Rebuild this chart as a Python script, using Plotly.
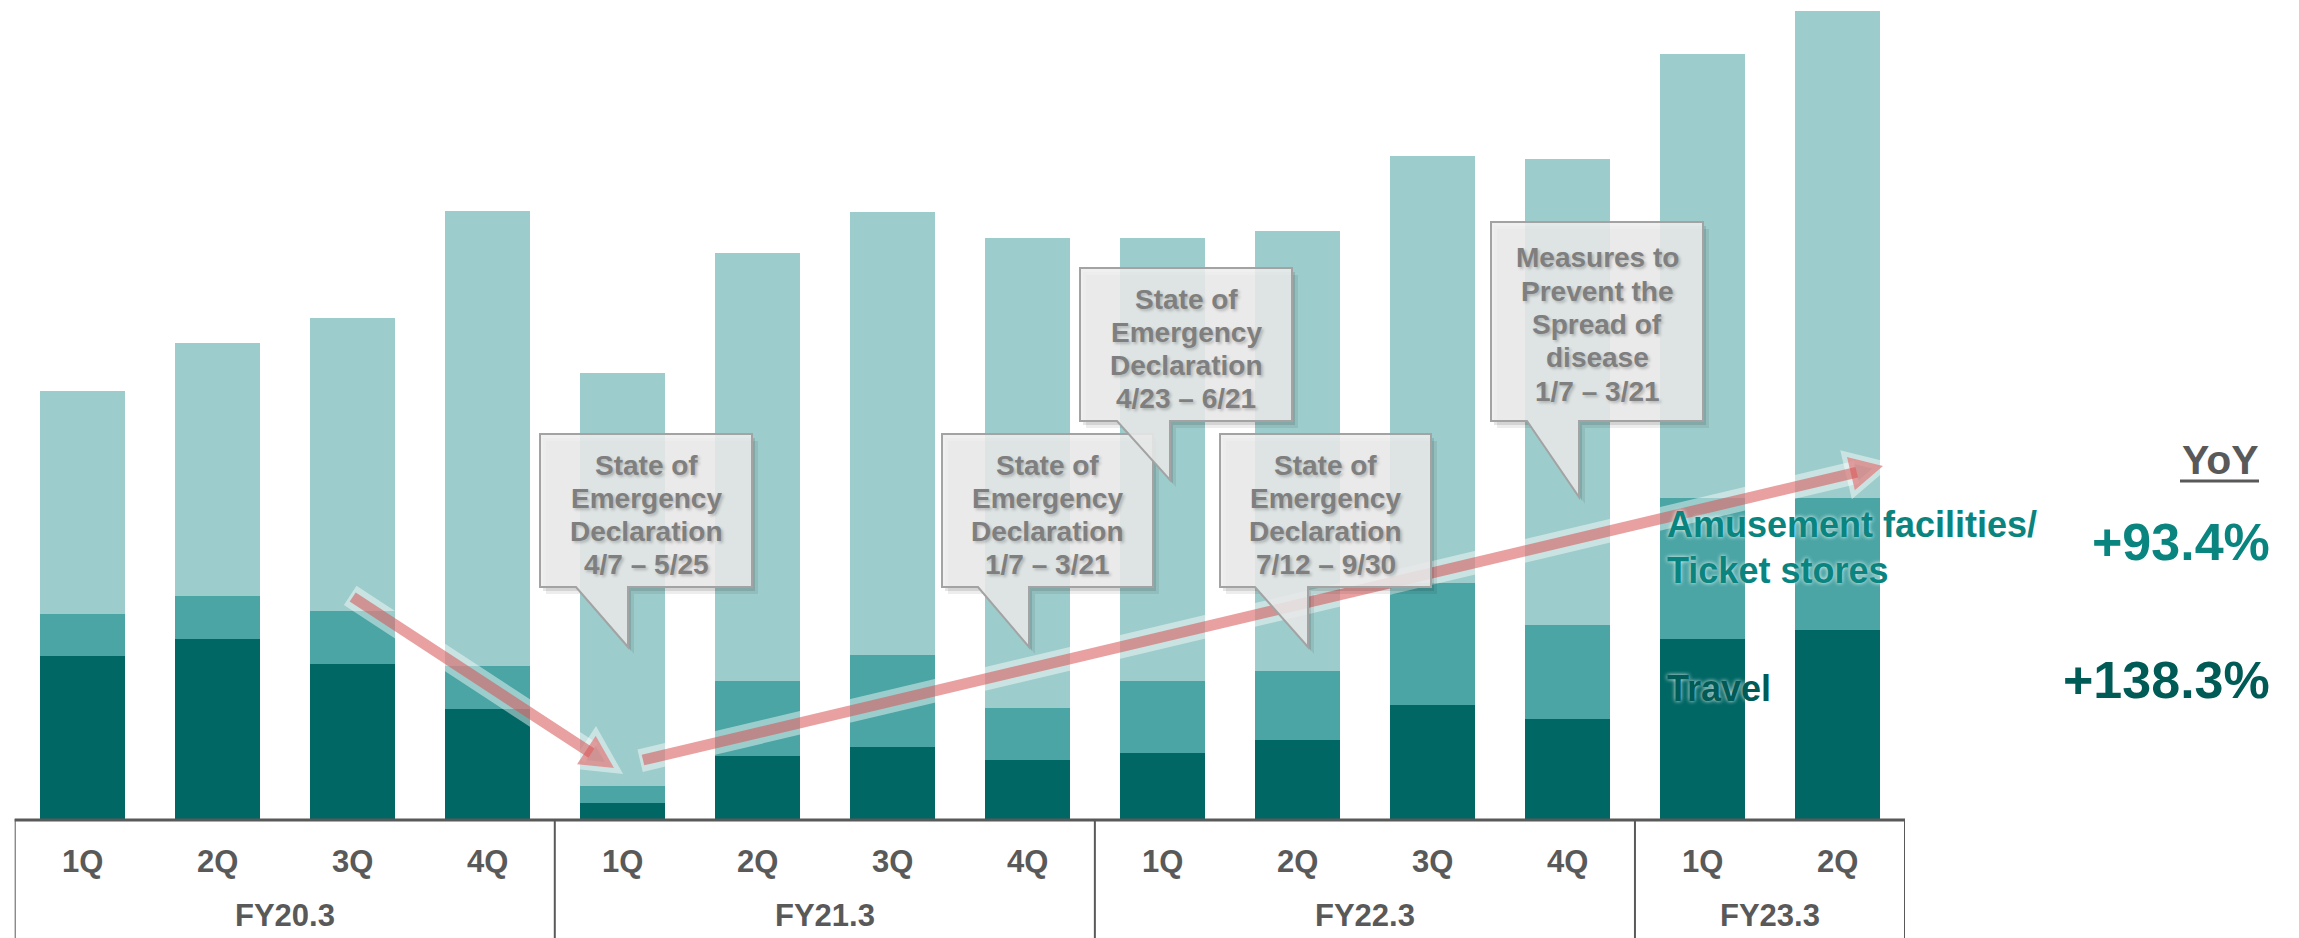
import plotly.graph_objects as go

# ---------------- data (arbitrary units) ----------------
quarters = ["1Q", "2Q", "3Q", "4Q", "1Q", "2Q", "3Q", "4Q", "1Q", "2Q", "3Q", "4Q", "1Q", "2Q"]
fiscal_years = ["FY20.3", "FY21.3", "FY22.3", "FY23.3"]
quarters_per_fy = [4, 4, 4, 2]
travel = [111, 123, 106, 75, 11, 43, 49, 40, 45, 54, 78, 68, 123, 129]
amusement = [28.5, 29, 36, 29.5, 11.5, 51, 63, 36, 49, 47, 83, 64, 96, 90]
others = [152.5, 173, 200, 310.5, 281.5, 292, 302, 320, 302, 300, 291, 318, 303, 332]

callouts = [
    ["State of", "Emergency", "Declaration", "4/7 – 5/25"],
    ["State of", "Emergency", "Declaration", "1/7 – 3/21"],
    ["State of", "Emergency", "Declaration", "4/23 – 6/21"],
    ["State of", "Emergency", "Declaration", "7/12 – 9/30"],
    ["Measures to", "Prevent the", "Spread of", "disease", "1/7 – 3/21"],
]
yoy_labels = ["+93.4%", "+138.3%"]

# ---------------- layout helpers ----------------
W, H = 2299, 938
FONT = "Liberation Sans, Arial, sans-serif"
C_LIGHT, C_MID, C_DARK = "#9CCCCB", "#4BA5A5", "#006764"
GREY = "#595959"


def px(x):
    return x / W


def py(y):
    return 1 - y / H


fy_of_bar = []
for fy, n in zip(fiscal_years, quarters_per_fy):
    fy_of_bar += [fy] * n
cats = [f"{fy} {q}" for fy, q in zip(fy_of_bar, quarters)]

fig = go.Figure()
fig.add_bar(x=cats, y=travel, name="Travel", marker=dict(color=C_DARK, line_width=0))
fig.add_bar(x=cats, y=amusement, name="Amusement facilities/Ticket stores",
            marker=dict(color=C_MID, line_width=0))
fig.add_bar(x=cats, y=others, name="Others", marker=dict(color=C_LIGHT, line_width=0))

base_px = 819.0
unit_px = 1.466
x_left, x_right = 14.7, 1905.0

shapes = []
annotations = []

# ---- category box under the bars ----
shapes.append(dict(type="line", xref="paper", yref="paper", x0=px(x_left), x1=px(x_right),
                   y0=py(base_px + 1), y1=py(base_px + 1), line=dict(color=GREY, width=3)))
bounds = [-0.5]
acc = -0.5
for n in quarters_per_fy:
    acc += n
    bounds.append(acc)
for b in bounds:
    shapes.append(dict(type="line", xref="x", yref="paper", x0=b, x1=b,
                       y0=py(base_px), y1=0, line=dict(color=GREY, width=2)))
for c, q in zip(cats, quarters):
    annotations.append(dict(x=c, xref="x", y=py(861), yref="paper", text=f"<b>{q}</b>",
                            showarrow=False, font=dict(family=FONT, size=31, color=GREY),
                            xanchor="center", yanchor="middle"))
for i, fy in enumerate(fiscal_years):
    centre = (bounds[i] + bounds[i + 1]) / 2
    annotations.append(dict(x=centre, xref="x", y=py(915), yref="paper", text=f"<b>{fy}</b>",
                            showarrow=False, font=dict(family=FONT, size=31, color=GREY),
                            xanchor="center", yanchor="middle"))


# ---- arrows ----
def arrow(x0, y0, x1, y1, head_len=33, half_w=17, width=11):
    dx, dy = x1 - x0, y1 - y0
    L = (dx * dx + dy * dy) ** 0.5
    ux, uy = dx / L, dy / L
    nx, ny = -uy, ux
    bx, by = x1 - head_len * ux, y1 - head_len * uy
    ex, ey = bx + 6 * ux, by + 6 * uy
    head = (f"M {px(x1)} {py(y1)} L {px(bx + half_w * nx)} {py(by + half_w * ny)} "
            f"L {px(bx - half_w * nx)} {py(by - half_w * ny)} Z")
    out = []
    # soft white glow
    out.append(dict(type="line", xref="paper", yref="paper", x0=px(x0 - 3 * ux), y0=py(y0 - 3 * uy),
                     x1=px(ex), y1=py(ey), line=dict(color="rgba(255,255,255,0.45)", width=width + 12)))
    out.append(dict(type="path", xref="paper", yref="paper", path=head,
                    fillcolor="rgba(255,255,255,0.45)", line=dict(color="rgba(255,255,255,0.45)", width=10)))
    out.append(dict(type="line", xref="paper", yref="paper", x0=px(x0), y0=py(y0),
                     x1=px(ex), y1=py(ey), line=dict(color="rgba(214,82,82,0.55)", width=width)))
    out.append(dict(type="path", xref="paper", yref="paper", path=head,
                    fillcolor="rgba(214,82,82,0.55)", line=dict(width=0)))
    return out


shapes += arrow(352.7, 597, 614, 768)
shapes += arrow(643, 760, 1883, 466)

# ---- callouts ----
callout_geo = [
    # box x0, y0, x1, y1, tail base x0, x1, tip x, tip y, first line y
    (540, 434, 752, 587, 576, 628, 628, 647, 465),
    (942, 434, 1153, 587, 978, 1029, 1029, 647, 465),
    (1080, 268, 1292, 421, 1117, 1170, 1170, 480, 299),
    (1220, 434, 1431, 587, 1255, 1308, 1308, 647, 465),
    (1491, 222, 1703, 421, 1527, 1579, 1579, 497, 258),
]
order = [0, 1, 3, 2, 4]
for k in order:
    x0, y0, x1, y1, t0, t1, tx, ty, ly = callout_geo[k]

    def pth(dx=0, dy=0):
        pts = [(x0, y0), (x1, y0), (x1, y1), (t1, y1), (tx, ty), (t0, y1), (x0, y1)]
        s = "M " + " L ".join(f"{px(a + dx)} {py(b + dy)}" for a, b in pts) + " Z"
        return s

    shapes.append(dict(type="path", xref="paper", yref="paper", path=pth(6, 7),
                       fillcolor="rgba(0,0,0,0.07)", line=dict(width=0)))
    shapes.append(dict(type="path", xref="paper", yref="paper", path=pth(3, 4),
                       fillcolor="rgba(0,0,0,0.10)", line=dict(width=0)))
    shapes.append(dict(type="path", xref="paper", yref="paper", path=pth(),
                       fillcolor="rgba(238,238,238,0.86)", line=dict(color="#A3A3A3", width=2)))
    cx = (x0 + x1) / 2
    for j, line in enumerate(callouts[k]):
        annotations.append(dict(x=px(cx), xref="paper", y=py(ly + 33.3 * j), yref="paper",
                                text=f"<b>{line}</b>", showarrow=False,
                                font=dict(family=FONT, size=28, color="#7F7F7F",
                                          shadow="2px 2px 3px rgba(0,0,0,0.22)"),
                                xanchor="center", yanchor="middle"))

# ---- series labels ----
glow = "0px 0px 4px rgba(255,255,255,0.95)"
annotations.append(dict(x=px(1665), y=py(524), xref="paper", yref="paper",
                        text="<b>Amusement facilities/</b>", showarrow=False,
                        font=dict(family=FONT, size=36, color="#0A847F", shadow=glow),
                        xanchor="left", yanchor="middle"))
annotations.append(dict(x=px(1665), y=py(570), xref="paper", yref="paper",
                        text="<b>Ticket stores</b>", showarrow=False,
                        font=dict(family=FONT, size=36, color="#0A847F", shadow=glow),
                        xanchor="left", yanchor="middle"))
annotations.append(dict(x=px(1665), y=py(688), xref="paper", yref="paper",
                        text="<b>Travel</b>", showarrow=False,
                        font=dict(family=FONT, size=36, color="#005A56", shadow=glow),
                        xanchor="left", yanchor="middle"))

# ---- YoY ----
annotations.append(dict(x=px(2220), y=py(460), xref="paper", yref="paper",
                        text="<b>YoY</b>", showarrow=False,
                        font=dict(family=FONT, size=41, color=GREY),
                        xanchor="center", yanchor="middle"))
shapes.append(dict(type="line", xref="paper", yref="paper", x0=px(2180), x1=px(2259),
                   y0=py(481), y1=py(481), line=dict(color=GREY, width=3)))
annotations.append(dict(x=px(2272), y=py(542), xref="paper", yref="paper",
                        text=f"<b>{yoy_labels[0]}</b>", showarrow=False,
                        font=dict(family=FONT, size=52, color="#0A847F"),
                        xanchor="right", yanchor="middle"))
annotations.append(dict(x=px(2272), y=py(680), xref="paper", yref="paper",
                        text=f"<b>{yoy_labels[1]}</b>", showarrow=False,
                        font=dict(family=FONT, size=52, color="#005A56"),
                        xanchor="right", yanchor="middle"))

fig.update_layout(
    width=W, height=H, margin=dict(l=0, r=0, t=0, b=0),
    paper_bgcolor="white", plot_bgcolor="white",
    barmode="stack", bargap=0.37, showlegend=False,
    xaxis=dict(domain=[px(x_left), px(x_right)], range=[-0.5, len(cats) - 0.5],
               type="category", visible=False, categoryorder="array", categoryarray=cats),
    yaxis=dict(domain=[py(base_px), 1], range=[0, base_px / unit_px], visible=False),
    shapes=shapes, annotations=annotations,
    font=dict(family=FONT),
)

fig.write_html(
    "out.html",
    config={"displayModeBar": False},
    post_script="document.body.style.margin='0';document.body.style.overflow='hidden';",
)
